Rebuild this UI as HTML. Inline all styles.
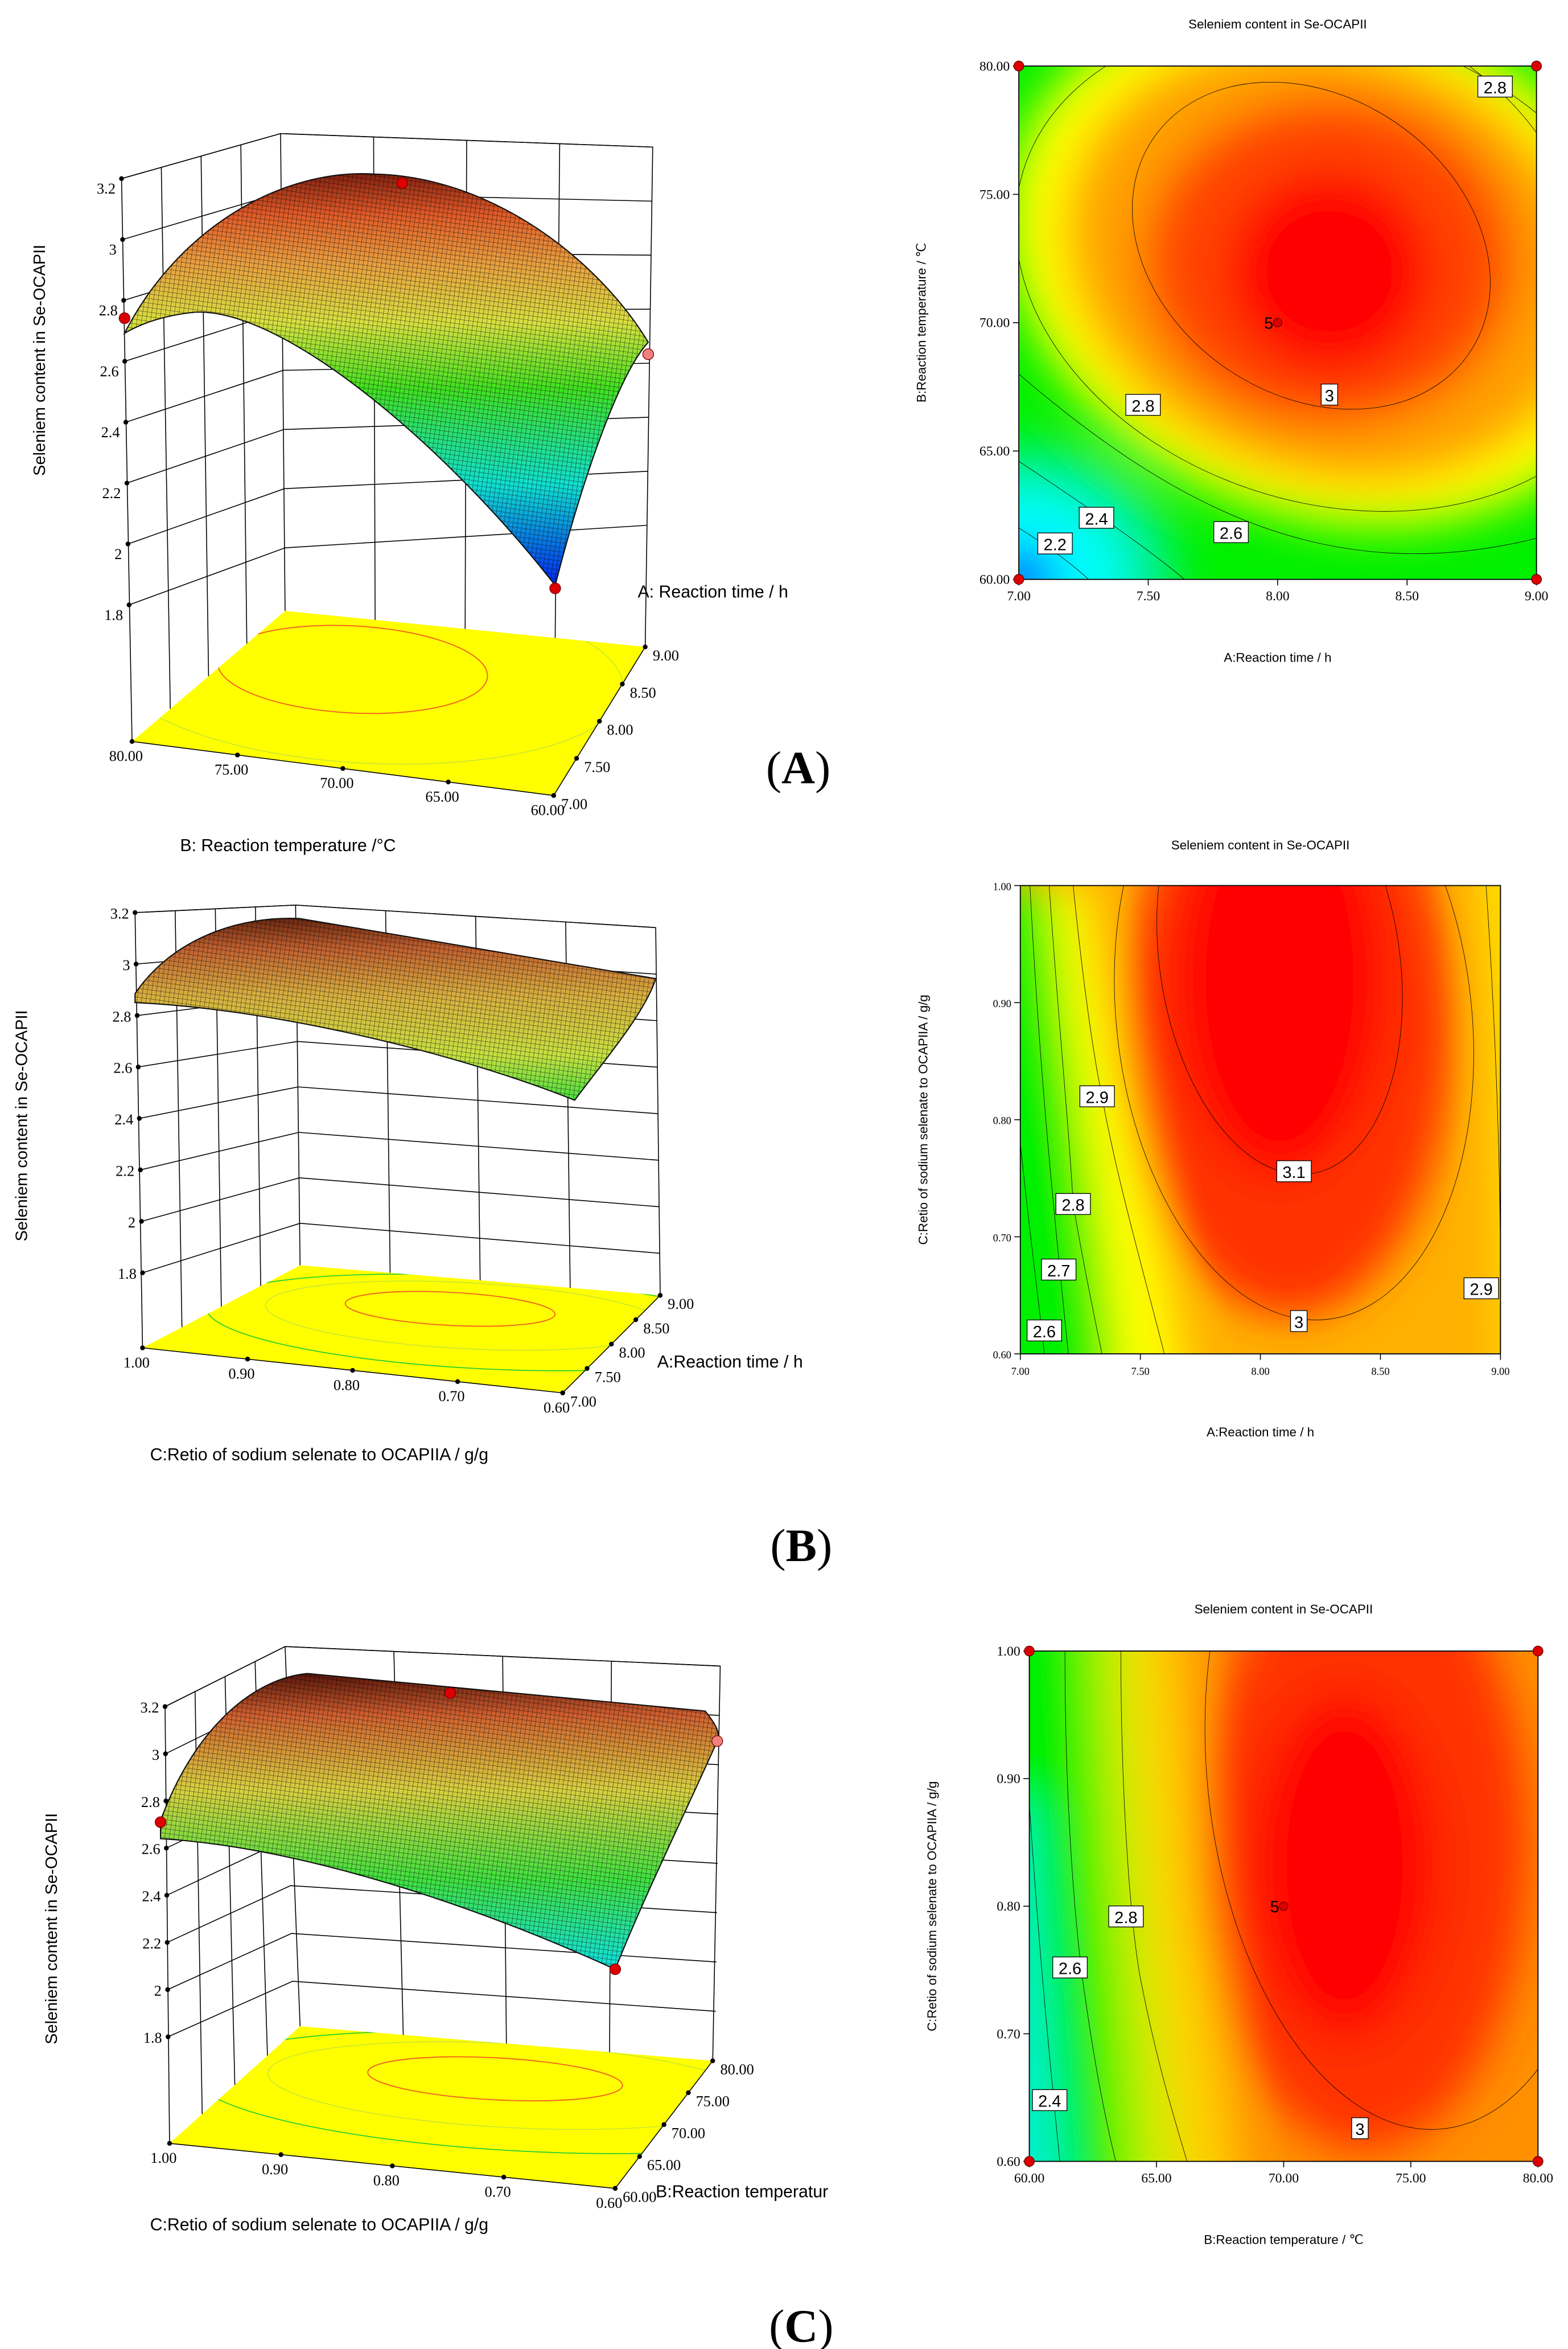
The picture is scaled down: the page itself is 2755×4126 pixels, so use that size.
<!DOCTYPE html>
<html><head><meta charset="utf-8"><style>html,body{margin:0;padding:0;background:#fff}svg{display:block}</style></head>
<body>
<svg id="fig" xmlns="http://www.w3.org/2000/svg" width="2755" height="4126" viewBox="0 0 1045 1565" preserveAspectRatio="none" font-family="Liberation Sans, sans-serif">
<defs>
<pattern id="mesh" width="3" height="3" patternUnits="userSpaceOnUse" patternTransform="rotate(8)"><path d="M0 0H3M0 0V3" stroke="#000" stroke-width="0.45" opacity="0.7"/></pattern>
<linearGradient id="gA" gradientUnits="userSpaceOnUse" x1="0" y1="115" x2="0" y2="392"><stop offset="0" stop-color="#802010"/><stop offset="0.1" stop-color="#e05a28"/><stop offset="0.22" stop-color="#e8a040"/><stop offset="0.36" stop-color="#d8e040"/><stop offset="0.52" stop-color="#40e020"/><stop offset="0.75" stop-color="#10e0d0"/><stop offset="1" stop-color="#0020f0"/></linearGradient>
<linearGradient id="gB" gradientUnits="userSpaceOnUse" x1="0" y1="606" x2="0" y2="735"><stop offset="0" stop-color="#501808"/><stop offset="0.2" stop-color="#c06030"/><stop offset="0.45" stop-color="#d8b040"/><stop offset="0.75" stop-color="#c8e040"/><stop offset="1" stop-color="#40e040"/></linearGradient>
<linearGradient id="gC" gradientUnits="userSpaceOnUse" x1="0" y1="1113" x2="0" y2="1312"><stop offset="0" stop-color="#501008"/><stop offset="0.15" stop-color="#d06030"/><stop offset="0.4" stop-color="#d8d040"/><stop offset="0.7" stop-color="#40e040"/><stop offset="1" stop-color="#10e0e0"/></linearGradient>
<filter id="blur" filterUnits="userSpaceOnUse" x="-0.2" y="-0.2" width="1.4" height="1.4"><feGaussianBlur stdDeviation="0.045"/></filter>
<clipPath id="unit" clipPathUnits="userSpaceOnUse"><rect x="0" y="0" width="1" height="1"/></clipPath>
<clipPath id="flA"><polygon points="88,494 190,407 430,431 369,530"/></clipPath>
<clipPath id="flB"><polygon points="95,898 200,843 440,863 375,928"/></clipPath>
<clipPath id="flC"><polygon points="113,1428 200,1350 475,1373 410,1458"/></clipPath>
</defs>

<g id="a3d"></g>
<g id="b3d"></g>
<g id="c3d"></g>

<g id="aC">
  <g transform="translate(679,44) scale(345,342)" clip-path="url(#unit)">
    <rect width="1" height="1" fill="#00f000"/>
    <g filter="url(#blur)">
      <ellipse cx="0" cy="1" rx="0.3" ry="0.26" fill="#00f0a0"/>
      <ellipse cx="0" cy="1" rx="0.2" ry="0.17" fill="#00ffff"/>
      <ellipse cx="0" cy="1" rx="0.07" ry="0.06" fill="#0020ff"/>
      <ellipse cx="0.6" cy="0.38" rx="0.64" ry="0.5" fill="#ffff00" transform="rotate(20 0.6 0.38)"/>
      <ellipse cx="0.6" cy="0.38" rx="0.52" ry="0.42" fill="#ffa000" transform="rotate(20 0.6 0.38)"/>
      <ellipse cx="0.6" cy="0.38" rx="0.36" ry="0.32" fill="#ff4400"/>
      <ellipse cx="0.6" cy="0.4" rx="0.2" ry="0.2" fill="#ff0000"/>
    </g>
    <g fill="none" stroke="#000" stroke-width="0.8">
      <ellipse cx="0.565" cy="0.35" rx="0.37" ry="0.29" transform="rotate(35 0.565 0.35)" vector-effect="non-scaling-stroke"/>
      <ellipse cx="0.6" cy="0.39" rx="0.62" ry="0.46" transform="rotate(18 0.6 0.39)" vector-effect="non-scaling-stroke"/>
      <path d="M0.87 0 Q0.95 0.06 1 0.13" vector-effect="non-scaling-stroke"/>
      <path d="M0 0.6 C0.3 0.86 0.6 1.02 1 0.92" vector-effect="non-scaling-stroke"/>
      <path d="M0 0.77 C0.12 0.85 0.25 0.94 0.32 1" vector-effect="non-scaling-stroke"/>
      <path d="M0 0.9 Q0.08 0.95 0.135 1" vector-effect="non-scaling-stroke"/>
    </g>
  </g>
</g>
<g id="bC">
  <g transform="translate(680,590) scale(320,312)" clip-path="url(#unit)">
    <rect width="1" height="1" fill="#ffb000"/>
    <g filter="url(#blur)">
      <path d="M-0.1 0 L0.14 0 C0.2 0.4 0.3 0.7 0.35 1.1 L-0.1 1.1Z" fill="#ffff00"/>
      <path d="M-0.1 0 L0.06 0 C0.1 0.4 0.17 0.7 0.2 1.1 L-0.1 1.1Z" fill="#00f000"/>
      <path d="M0.95 -0.1 L1.1 -0.1 L1.1 1.1 L1.0 1.1 C1.0 0.6 0.98 0.3 0.95 -0.1Z" fill="#ffe000"/>
      <ellipse cx="0.56" cy="0.3" rx="0.34" ry="0.62" fill="#ff3000"/>
      <ellipse cx="0.54" cy="0.2" rx="0.22" ry="0.42" fill="#ff0000"/>
    </g>
    <g fill="none" stroke="#000" stroke-width="0.8">
      <ellipse cx="0.54" cy="0.16" rx="0.25" ry="0.46" transform="rotate(-8 0.54 0.16)" vector-effect="non-scaling-stroke"/>
      <ellipse cx="0.57" cy="0.28" rx="0.37" ry="0.65" transform="rotate(-6 0.57 0.28)" vector-effect="non-scaling-stroke"/>
      <path d="M0.11 0 C0.13 0.2 0.15 0.35 0.17 0.45 C0.2 0.62 0.25 0.8 0.3 1" vector-effect="non-scaling-stroke"/>
      <path d="M0.97 0 C0.99 0.3 1 0.6 1 0.85" vector-effect="non-scaling-stroke"/>
      <path d="M0.06 0 C0.08 0.3 0.1 0.5 0.11 0.68 C0.13 0.8 0.15 0.9 0.17 1" vector-effect="non-scaling-stroke"/>
      <path d="M0.02 0 C0.04 0.4 0.07 0.7 0.1 1" vector-effect="non-scaling-stroke"/>
      <path d="M0 0.55 C0.02 0.75 0.04 0.9 0.05 1" vector-effect="non-scaling-stroke"/>
    </g>
  </g>
</g>
<g id="cC">
  <g transform="translate(686,1100) scale(339,340)" clip-path="url(#unit)">
    <rect width="1" height="1" fill="#ff9000"/>
    <g filter="url(#blur)">
      <path d="M-0.1 -0.1 L0.3 -0.1 C0.33 0.4 0.38 0.7 0.42 1.1 L-0.1 1.1Z" fill="#ffd000"/>
      <path d="M-0.1 -0.1 L0.2 -0.1 C0.22 0.4 0.26 0.7 0.3 1.1 L-0.1 1.1Z" fill="#c8f000"/>
      <path d="M-0.1 -0.1 L0.12 -0.1 C0.14 0.4 0.18 0.7 0.2 1.1 L-0.1 1.1Z" fill="#00f000"/>
      <path d="M-0.1 0.3 L0.0 0.3 C0.02 0.6 0.05 0.85 0.07 1.1 L-0.1 1.1Z" fill="#00f0d0"/>
      <ellipse cx="0.66" cy="0.38" rx="0.32" ry="0.6" fill="#ff3000"/>
      <ellipse cx="0.62" cy="0.42" rx="0.18" ry="0.34" fill="#ff0000"/>
    </g>
    <g fill="none" stroke="#000" stroke-width="0.8">
      <ellipse cx="0.74" cy="0.24" rx="0.39" ry="0.7" transform="rotate(-6 0.74 0.24)" vector-effect="non-scaling-stroke"/>
      <path d="M0.18 0 C0.18 0.3 0.2 0.55 0.22 0.65 C0.25 0.8 0.28 0.9 0.31 1" vector-effect="non-scaling-stroke"/>
      <path d="M0.07 0 C0.07 0.3 0.09 0.55 0.11 0.68 C0.13 0.82 0.15 0.92 0.17 1" vector-effect="non-scaling-stroke"/>
      <path d="M0.0 0.3 C0.02 0.6 0.04 0.8 0.06 1" vector-effect="non-scaling-stroke"/>
    </g>
  </g>
</g>

<text x="532" y="522" font-family="Liberation Serif, serif" font-size="31" text-anchor="middle">(<tspan font-weight="bold">A</tspan>)</text>
<text x="534" y="1040" font-family="Liberation Serif, serif" font-size="31" text-anchor="middle">(<tspan font-weight="bold">B</tspan>)</text>
<text x="534" y="1560" font-family="Liberation Serif, serif" font-size="31" text-anchor="middle">(<tspan font-weight="bold">C</tspan>)</text>
</svg>

<script>
const zTicks = [3.2, 3, 2.8, 2.6, 2.4, 2.2, 2, 1.8];
const aTimeTicks = ["7.00", "7.50", "8.00", "8.50", "9.00"];
const bTempTicks = ["60.00", "65.00", "70.00", "75.00", "80.00"];
const cRatioTicks = ["0.60", "0.70", "0.80", "0.90", "1.00"];
const aDesignPts = [[7, 60], [7, 80], [9, 60], [9, 80], [8, 70]];
const cDesignPts = [[60, 0.6], [60, 1.0], [80, 0.6], [80, 1.0], [70, 0.8]];

const NS = "http://www.w3.org/2000/svg";
function mk(parent, tag, attrs, txt) {
  const e = document.createElementNS(NS, tag);
  for (const k in attrs) e.setAttribute(k, attrs[k]);
  if (txt !== undefined) e.textContent = txt;
  parent.appendChild(e);
  return e;
}
const lerp = (a, b, t) => [a[0] + (b[0] - a[0]) * t, a[1] + (b[1] - a[1]) * t];

function build3D(gid, geo) {
  const g = document.getElementById(gid);
  const L = { stroke: "#000", "stroke-width": 0.6, fill: "none" };
  const f = geo.floor;
  const floor = mk(g, "polygon", { points: [f.FL, f.BL, f.BR, f.FR].map(p => p.join(",")).join(" "), fill: "#ffff00" });
  
  
  const fg = mk(g, "g", { "clip-path": `url(#${geo.clip})` });
  const tr = `rotate(${geo.fe[4]} ${geo.fe[0]} ${geo.fe[1]})`;
  mk(fg, "ellipse", { cx: geo.fe[0], cy: geo.fe[1], rx: geo.fe[2], ry: geo.fe[3], fill: "none", stroke: "#f06020", "stroke-width": 0.7, transform: tr });
  mk(fg, "ellipse", { cx: geo.fe[0] + 10, cy: geo.fe[1] + 4, rx: geo.fe[2] * 1.9, ry: geo.fe[3] * 2.0, fill: "none", stroke: "#c0e040", "stroke-width": 0.5, transform: tr });
  mk(fg, "ellipse", { cx: geo.fe[0] + 20, cy: geo.fe[1] + 8, rx: geo.fe[2] * 2.6, ry: geo.fe[3] * 2.8, fill: "none", stroke: "#30d030", "stroke-width": 0.7, transform: tr });
  const n = zTicks.length;
  for (let i = 0; i < n; i++) {
    const t = i / (n - 1);
    const pFL = lerp(geo.FLt, geo.FLb, t), pBL = lerp(geo.BLt, geo.BLb, t), pBR = lerp(geo.BRt, geo.BRb, t);
    mk(g, "polyline", Object.assign({ points: [pFL, pBL, pBR].map(p => p.join(",")).join(" ") }, L));
    const dot = mk(g, "circle", { cx: pFL[0], cy: pFL[1], r: 1.6, fill: "#000" });
    
    
    const lab = mk(g, "text", { x: pFL[0] - 4, y: pFL[1] + geo.tdy, "font-family": "Liberation Serif, serif", "font-size": 10, "text-anchor": "end" }, String(zTicks[i]));
    
    
  }
  for (let j = 1; j < 4; j++) {
    const t = j / 4;
    const a = lerp(geo.FLt, geo.BLt, t), b = lerp(f.FL, f.BL, t);
    mk(g, "line", Object.assign({ x1: a[0], y1: a[1], x2: b[0], y2: b[1] }, L));
    const c = lerp(geo.BLt, geo.BRt, t), d = lerp(f.BL, f.BR, t);
    mk(g, "line", Object.assign({ x1: c[0], y1: c[1], x2: d[0], y2: d[1] }, L));
  }
  mk(g, "polyline", Object.assign({ points: [f.FL, geo.FLt, geo.BLt, geo.BRt, f.BR].map(p => p.join(",")).join(" ") }, L));
  mk(g, "line", Object.assign({ x1: geo.BLt[0], y1: geo.BLt[1], x2: f.BL[0], y2: f.BL[1] }, L));
  mk(g, "polyline", Object.assign({ points: [f.FL, f.FR, f.BR].map(p => p.join(",")).join(" ") }, L));
  const s = mk(g, "path", { d: geo.surf, fill: `url(#${geo.grad})`, stroke: "#111", "stroke-width": 0.8 });
  
  
  mk(g, "path", { d: geo.surf, fill: "url(#mesh)" });
  geo.xt.forEach((lab, i) => {
    const p = lerp(f.FL, f.FR, i / (geo.xt.length - 1));
    mk(g, "circle", { cx: p[0], cy: p[1], r: 1.6, fill: "#000" });
    const t = mk(g, "text", { x: p[0] - 4, y: p[1] + 13, "font-family": "Liberation Serif, serif", "font-size": 10, "text-anchor": "middle" }, lab);
    
    
  });
  geo.yt.forEach((lab, i) => {
    const p = lerp(f.FR, f.BR, i / (geo.yt.length - 1));
    mk(g, "circle", { cx: p[0], cy: p[1], r: 1.6, fill: "#000" });
    const t = mk(g, "text", { x: p[0] + 5, y: p[1] + 9, "font-family": "Liberation Serif, serif", "font-size": 10 }, lab);
    
    
  });
  (geo.pts || []).forEach(p => {
    const c = mk(g, "circle", { cx: p[0], cy: p[1], r: 3.6, fill: p[2] || "#dd0000", stroke: "#700", "stroke-width": 0.5 });
    
    
  });
  const zt = mk(g, "text", { x: geo.zl[0], y: geo.zl[1], "font-size": 11, "text-anchor": "middle", transform: `rotate(-90 ${geo.zl[0]} ${geo.zl[1]})` }, "Seleniem content in Se-OCAPII");
  
  
  const xt = mk(g, "text", { x: geo.xl[0], y: geo.xl[1], "font-size": 11.5 }, geo.xl[2]);
  
  
  const yt = mk(g, "text", { x: geo.yl[0], y: geo.yl[1], "font-size": 11.5 }, geo.yl[2]);
  
  
}

build3D("a3d", {
  FLt: [81, 119], FLb: [86, 403], BLt: [187, 89], BLb: [190, 365], BRt: [435, 98], BRb: [431, 350],
  floor: { FL: [88, 494], BL: [190, 407], BR: [430, 431], FR: [369, 530] },
  fe: [235, 446, 90, 29, 3], grad: "gA", tdy: 10, clip: "flA",
  surf: "M83,222 C120,150 190,112 250,116 C330,118 400,175 432,228 C412,250 388,320 370,390 C300,300 190,205 130,208 C110,210 95,215 83,222 Z",
  pts: [[83, 212], [268, 122], [432, 236, "#f08080"], [370, 392]],
  xt: ["80.00", "75.00", "70.00", "65.00", "60.00"], yt: aTimeTicks,
  zl: [30, 240], xl: [120, 567, "B: Reaction temperature /°C"], yl: [425, 398, "A: Reaction time / h"]
});
build3D("b3d", {
  FLt: [90, 608], FLb: [95, 848], BLt: [197, 603], BLb: [200, 815], BRt: [437, 618], BRb: [440, 835],
  floor: { FL: [95, 898], BL: [200, 843], BR: [440, 863], FR: [375, 928] },
  fe: [300, 872, 70, 11, 3], grad: "gB", tdy: 4, clip: "flB",
  surf: "M90,662 C115,625 160,610 200,612 L437,652 C430,675 400,710 383,733 C300,700 180,672 90,668 Z",
  xt: ["1.00", "0.90", "0.80", "0.70", "0.60"], yt: aTimeTicks,
  zl: [18, 750], xl: [100, 973, "C:Retio of sodium selenate to OCAPIIA / g/g"], yl: [438, 911, "A:Reaction time / h"]
});
build3D("c3d", {
  FLt: [110, 1137], FLb: [112, 1357], BLt: [190, 1097], BLb: [195, 1320], BRt: [480, 1110], BRb: [477, 1340],
  floor: { FL: [113, 1428], BL: [200, 1350], BR: [475, 1373], FR: [410, 1458] },
  fe: [330, 1385, 85, 14, 3], grad: "gC", tdy: 4, clip: "flC",
  surf: "M107,1225 L107,1213 C130,1150 170,1118 205,1115 L470,1140 C478,1150 480,1155 478,1160 C458,1205 430,1262 410,1312 C300,1262 190,1230 107,1225 Z",
  pts: [[107, 1214], [300, 1128], [478, 1160, "#f08080"], [410, 1312]],
  xt: ["1.00", "0.90", "0.80", "0.70", "0.60"], yt: bTempTicks,
  zl: [38, 1285], xl: [100, 1486, "C:Retio of sodium selenate to OCAPIIA / g/g"], yl: [437, 1464, "B:Reaction temperatur"]
});

function contourAxes(gid, box, xt, yt, title, xlab, ylab, labels, pts, xr, yr) {
  const g = document.getElementById(gid);
  const [x0, y0, w, h] = box;
  mk(g, "rect", { x: x0, y: y0, width: w, height: h, fill: "none", stroke: "#000", "stroke-width": 0.7 });
  xt.forEach((lab, i) => {
    const x = x0 + w * i / (xt.length - 1);
    mk(g, "line", { x1: x, y1: y0 + h, x2: x, y2: y0 + h + 4, stroke: "#000", "stroke-width": 0.6 });
    const t = mk(g, "text", { x: x, y: y0 + h + 14, "font-family": "Liberation Serif, serif", "font-size": w > 330 ? 9 : 7, "text-anchor": "middle" }, lab);
    
    
  });
  yt.forEach((lab, i) => {
    const y = y0 + h - h * i / (yt.length - 1);
    mk(g, "line", { x1: x0 - 4, y1: y, x2: x0, y2: y, stroke: "#000", "stroke-width": 0.6 });
    const t = mk(g, "text", { x: x0 - 6, y: y + 3, "font-family": "Liberation Serif, serif", "font-size": w > 330 ? 9 : 7, "text-anchor": "end" }, lab);
    
    
  });
  const tt = mk(g, "text", { x: x0 + w / 2, y: y0 - (w > 330 ? 25 : 24), "font-size": 8.5, "text-anchor": "middle" }, title);
  
  
  const xl = mk(g, "text", { x: x0 + w / 2, y: y0 + h + 55, "font-size": 8.5, "text-anchor": "middle" }, xlab);
  
  
  const yx = x0 - 62, yy = y0 + h / 2;
  const yl = mk(g, "text", { x: yx, y: yy, "font-size": 8.5, "text-anchor": "middle", transform: `rotate(-90 ${yx} ${yy})` }, ylab);
  
  
  labels.forEach(([u, v, s]) => {
    const cx = x0 + u * w, cy = y0 + v * h, bw = s.length * 6 + 5;
    const r = mk(g, "rect", { x: cx - bw / 2, y: cy - 7, width: bw, height: 14, fill: "#fff", stroke: "#000", "stroke-width": 0.5 });
    
    
    mk(g, "text", { x: cx, y: cy + 4.5, "font-size": 11, "text-anchor": "middle" }, s);
  });
  (pts || []).forEach(([a, b]) => {
    const px = x0 + w * (a - xr[0]) / (xr[1] - xr[0]);
    const py = y0 + h - h * (b - yr[0]) / (yr[1] - yr[0]);
    const c = mk(g, "circle", { cx: px, cy: py, r: 3.3, fill: "#dd0000", stroke: "#600", "stroke-width": 0.5 });
    
    
    if (Math.abs(px - (x0 + w / 2)) < 1 && Math.abs(py - (y0 + h / 2)) < 1) {
      c.setAttribute("r", 2.8);
      mk(g, "text", { x: px - 9, y: py + 4, "font-size": 11 }, "5");
    }
  });
}
contourAxes("aC", [679, 44, 345, 342], aTimeTicks, bTempTicks, "Seleniem content in Se-OCAPII",
  "A:Reaction time / h", "B:Reaction temperature / ℃",
  [[0.92, 0.04, "2.8"], [0.24, 0.66, "2.8"], [0.6, 0.64, "3"], [0.41, 0.908, "2.6"], [0.15, 0.88, "2.4"], [0.07, 0.93, "2.2"]],
  aDesignPts, [7, 9], [60, 80]);
contourAxes("bC", [680, 590, 320, 312], aTimeTicks, cRatioTicks, "Seleniem content in Se-OCAPII",
  "A:Reaction time / h", "C:Retio of sodium selenate to OCAPIIA / g/g",
  [[0.57, 0.61, "3.1"], [0.58, 0.93, "3"], [0.16, 0.45, "2.9"], [0.96, 0.86, "2.9"], [0.11, 0.68, "2.8"], [0.08, 0.82, "2.7"], [0.05, 0.95, "2.6"]],
  null, [7, 9], [0.6, 1]);
contourAxes("cC", [686, 1100, 339, 340], bTempTicks, cRatioTicks, "Seleniem content in Se-OCAPII",
  "B:Reaction temperature / ℃", "C:Retio of sodium selenate to OCAPIIA / g/g",
  [[0.19, 0.52, "2.8"], [0.08, 0.62, "2.6"], [0.04, 0.88, "2.4"], [0.65, 0.935, "3"]],
  cDesignPts, [60, 80], [0.6, 1]);
</script>
</body></html>
